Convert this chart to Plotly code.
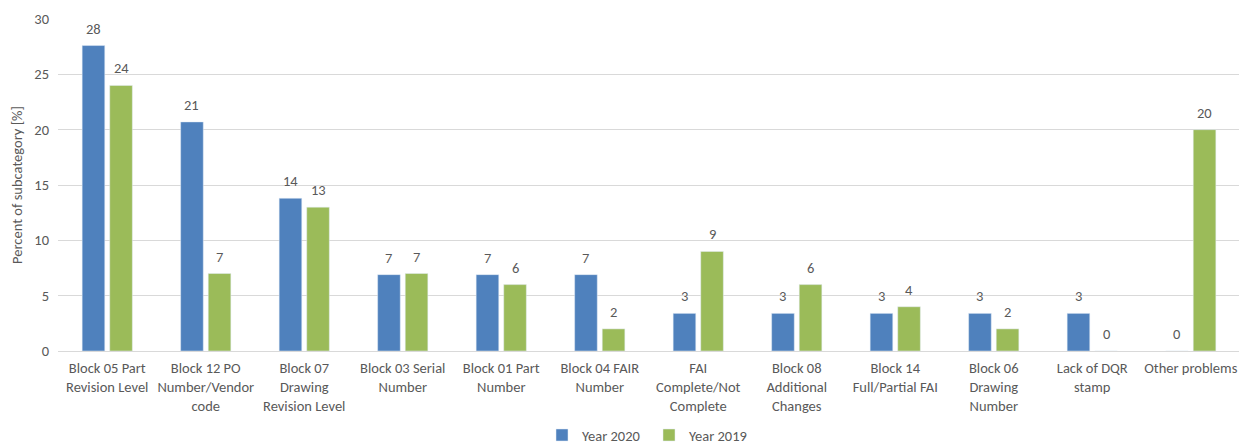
import plotly.graph_objects as go

categories = [
    "Block 05 Part<br>Revision Level",
    "Block 12 PO<br>Number/Vendor<br>code",
    "Block 07<br>Drawing<br>Revision Level",
    "Block 03 Serial<br>Number",
    "Block 01 Part<br>Number",
    "Block 04 FAIR<br>Number",
    "FAI<br>Complete/Not<br>Complete",
    "Block 08<br>Additional<br>Changes",
    "Block 14<br>Full/Partial FAI",
    "Block 06<br>Drawing<br>Number",
    "Lack of DQR<br>stamp",
    "Other problems",
]
year2020 = [27.6, 20.7, 13.8, 6.9, 6.9, 6.9, 3.4, 3.4, 3.4, 3.4, 3.4, 0]
year2019 = [24, 7, 13, 7, 6, 2, 9, 6, 4, 2, 0, 20]

font_family = "Carlito, Liberation Sans, Arial, sans-serif"
grey = "#595959"
fs = 14.5

# the page body adds an 8px offset; size the figure to fill the rest of the window
W, H = 1239, 436
ml, mr, mt, mb = 50, 7, 11, 93
bargap, bargroupgap = 0.44, 0.18

fig = go.Figure()
fig.add_trace(go.Bar(x=categories, y=year2020, name="Year 2020",
                     marker=dict(color="#4F81BD")))
fig.add_trace(go.Bar(x=categories, y=year2019, name="Year 2019",
                     marker=dict(color="#9BBB59")))

# value labels above bars (offset derived from bar layout)
cat_px = (W - ml - mr) / len(categories)
slot_px = cat_px * (1 - bargap) / 2
for vals, sign in ((year2020, -1), (year2019, 1)):
    for c, v in zip(categories, vals):
        fig.add_annotation(x=c, y=v, xref="x", yref="y", text=f"{v:.0f}",
                           showarrow=False, yanchor="bottom",
                           xshift=sign * slot_px / 2, yshift=6,
                           font=dict(size=fs, color=grey, family=font_family))

fig.update_layout(
    width=W, height=H,
    margin=dict(l=ml, r=mr, t=mt, b=mb, autoexpand=False),
    barmode="group", bargap=bargap, bargroupgap=bargroupgap,
    plot_bgcolor="white", paper_bgcolor="white",
    font=dict(family=font_family, size=fs, color=grey),
    legend=dict(orientation="h", x=0.5, xanchor="center", y=-0.205, yanchor="top",
                font=dict(size=fs, color=grey), traceorder="normal",
                itemwidth=30, entrywidth=62, entrywidthmode="pixels"),
    showlegend=True,
)
fig.update_yaxes(range=[0, 30], dtick=5, showgrid=True, gridcolor="#d9d9d9",
                 zeroline=True, zerolinecolor="#d9d9d9", zerolinewidth=1,
                 title=dict(text="Percent of subcategory [%]", font=dict(size=fs, color=grey), standoff=14),
                 tickfont=dict(size=fs, color=grey), ticks="", showline=False,
                 ticklabelstandoff=8, automargin=False)
fig.update_xaxes(showline=True, linecolor="#d9d9d9", ticks="", tickangle=0,
                 tickfont=dict(size=fs, color=grey), ticklabelstandoff=4,
                 automargin=False)

fig.write_html("out.html")
